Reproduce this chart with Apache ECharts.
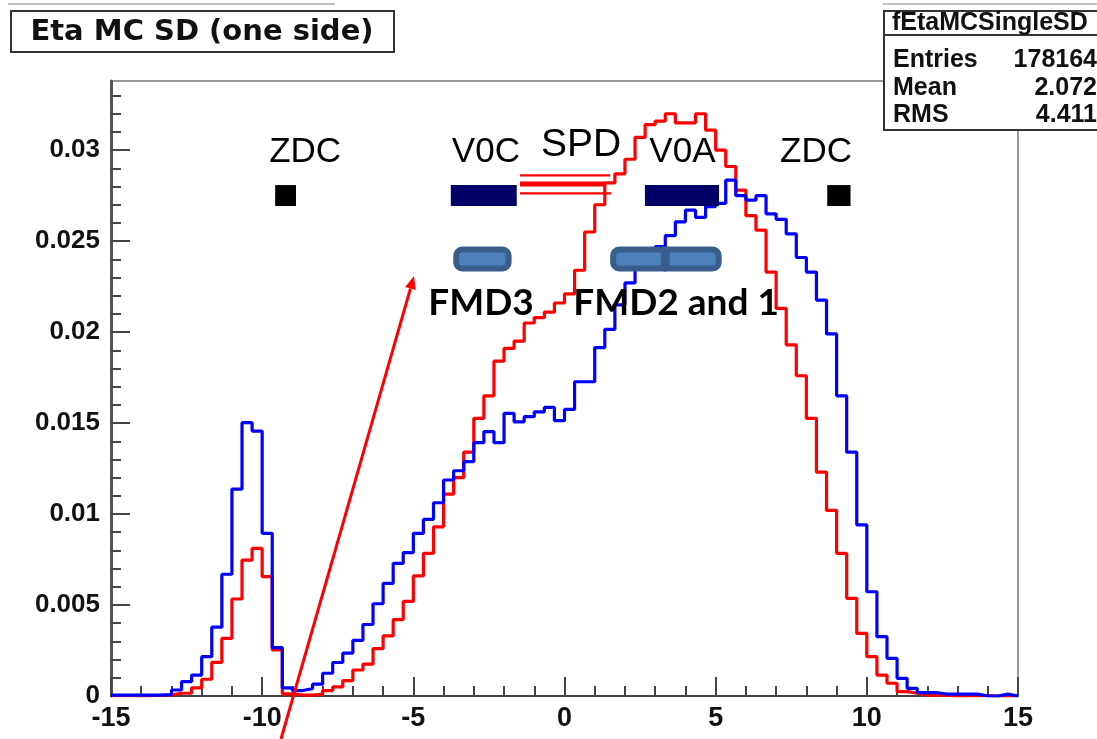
<!DOCTYPE html>
<html><head><meta charset="utf-8">
<script src="https://cdn.jsdelivr.net/npm/echarts@6/dist/echarts.min.js"></script>
<style>html,body{margin:0;padding:0;background:#fff}#c{width:1097px;height:739px}</style>
</head><body><div id="c"></div>
<script>
// ---- histogram definition (ROOT TH1: 90 bins from -15 to 15) ----
const histLow = -15, histHigh = 15, nBins = 90;
const redValues = [
0.00002,0.00002,0.00000,0.00002,0.00003,0.00005,0.00015,0.00015,0.00045,0.00092,
0.00185,0.00317,0.00533,0.00747,0.00811,0.00656,0.00253,0.00012,0.00005,0.00005,
0.00010,0.00030,0.00050,0.00085,0.00143,0.00175,0.00260,0.00330,0.00420,0.00520,
0.00660,0.00784,0.00930,0.01110,0.01200,0.01340,0.01526,0.01650,0.01840,0.01910,
0.01950,0.02050,0.02080,0.02110,0.02160,0.02210,0.02340,0.02550,0.02700,0.02820,
0.02870,0.02950,0.03070,0.03140,0.03160,0.03200,0.03150,0.03150,0.03200,0.03110,
0.03000,0.02910,0.02780,0.02640,0.02560,0.02330,0.02130,0.01930,0.01760,0.01526,
0.01230,0.01020,0.00784,0.00537,0.00344,0.00216,0.00115,0.00070,0.00024,0.00015,
0.00005,0.00005,0.00003,0.00000,0.00000,0.00003,0.00002,0.00000,0.00000,0.00000];
const blueValues = [
0.00005,0.00005,0.00005,0.00005,0.00005,0.00008,0.00033,0.00079,0.00115,0.00216,
0.00378,0.00669,0.01137,0.01502,0.01456,0.00894,0.00266,0.00045,0.00030,0.00040,
0.00065,0.00125,0.00184,0.00236,0.00306,0.00393,0.00507,0.00619,0.00729,0.00788,
0.00894,0.00971,0.01062,0.01187,0.01238,0.01288,0.01392,0.01453,0.01392,0.01553,
0.01507,0.01535,0.01562,0.01586,0.01513,0.01575,0.01727,0.01727,0.01915,0.02015,
0.02150,0.02270,0.02380,0.02450,0.02470,0.02530,0.02606,0.02670,0.02630,0.02690,
0.02707,0.02835,0.02750,0.02725,0.02750,0.02650,0.02620,0.02540,0.02410,0.02330,
0.02176,0.01990,0.01650,0.01340,0.00940,0.00573,0.00326,0.00207,0.00097,0.00042,
0.00018,0.00018,0.00010,0.00010,0.00010,0.00010,0.00000,0.00000,0.00010,0.00000];

// ---- axes ----
const xTickLabels = [-15, -10, -5, 0, 5, 10, 15];
const xMinorTicks = [-14,-13,-12,-11,-9,-8,-7,-6,-4,-3,-2,-1,1,2,3,4,6,7,8,9,11,12,13,14];
const yMin = 0, yMax = 0.0338;
const yTickLabels = [0, 0.005, 0.01, 0.015, 0.02, 0.025, 0.03];
const yMinorTicks = [0.001,0.002,0.003,0.004,0.006,0.007,0.008,0.009,0.011,0.012,0.013,0.014,
  0.016,0.017,0.018,0.019,0.021,0.022,0.023,0.024,0.026,0.027,0.028,0.029,0.031,0.032,0.033];

// ---- texts ----
const titleText = 'Eta MC SD (one side)';
const statsName = 'fEtaMCSingleSD';
const statsLabels = ['Entries', 'Mean', 'RMS'];
const statsValues = ['178164', '2.072', '4.411'];

// ---- detector acceptance overlays (eta ranges, y in axis units) ----
const detectorBars = [ // [etaLow, etaHigh, yLow, yHigh]
  [-9.57, -8.88, 0.02693, 0.02808],   // ZDC (C side)
  [-3.76, -1.58, 0.02693, 0.02808],   // V0C
  [2.66, 5.11, 0.02693, 0.02808],     // V0A
  [8.69, 9.46, 0.02693, 0.02808]      // ZDC (A side)
];
const fmdBoxes = [ // [etaLow, etaHigh, yLow, yHigh, corner]
  [-3.68, -1.75, 0.02333, 0.02470, 0],   // FMD3
  [1.51, 3.385, 0.02333, 0.02470, 1],    // FMD2
  [3.28, 5.20, 0.02333, 0.02470, 2]      // FMD1
];
const spdLines = [ // [etaLow, etaHigh, y, kind]
  [-1.47, 1.51, 0.02861, 0],
  [-1.47, 1.33, 0.02814, 1],
  [-1.47, 1.54, 0.02762, 0]
];
const detectorLabels = [ // [eta, y, text, kind]
  [-8.58, 0.02990, 'ZDC', 0],
  [-2.60, 0.02990, 'V0C', 0],
  [0.55, 0.03025, 'SPD', 1],
  [3.90, 0.02990, 'V0A', 0],
  [8.32, 0.02990, 'ZDC', 0],
  [-2.76, 0.02160, 'FMD3', 2],
  [3.69, 0.02160, 'FMD2 and 1', 2]
];
const arrowLine = [[-9.376, -0.002363, -4.977, 0.02308]];

const binWidth = (histHigh - histLow) / nBins;
function stepData(vals) {
  const pts = vals.map((v, i) => [histLow + i * binWidth, v]);
  pts.push([histHigh, vals[vals.length - 1]]);
  return pts;
}

const labelFont = {fontFamily: 'Liberation Sans', fontWeight: 'bold', color: '#111'};
const chart = echarts.init(document.getElementById('c'), null, {renderer: 'canvas'});

const option = {
  backgroundColor: '#fff',
  animation: false,
  grid: {left: 111, right: 79, top: 81, bottom: 43, show: true, borderColor: '#777', borderWidth: 1.5, backgroundColor: 'transparent'},
  xAxis: [
    {type: 'value', min: histLow, max: histHigh, interval: 5,
     axisLine: {show: true, onZero: false, lineStyle: {color: '#444', width: 2}},
     axisTick: {show: true, inside: true, length: 19, lineStyle: {color: '#444', width: 2}},
     axisLabel: Object.assign({margin: 9, fontSize: 27}, labelFont),
     splitLine: {show: false}},
    {type: 'value', min: histLow, max: histHigh, position: 'bottom', gridIndex: 0,
     axisLine: {show: false, onZero: false},
     axisTick: {show: true, inside: true, length: 10, customValues: xMinorTicks, lineStyle: {color: '#444', width: 2}},
     axisLabel: {show: false}, splitLine: {show: false}}
  ],
  yAxis: [
    {type: 'value', min: yMin, max: yMax,
     axisLine: {show: true, onZero: false, lineStyle: {color: '#555', width: 3}},
     axisTick: {show: true, inside: true, length: 19, customValues: yTickLabels, lineStyle: {color: '#444', width: 2}},
     axisLabel: Object.assign({margin: 11, fontSize: 26, customValues: yTickLabels}, labelFont),
     splitLine: {show: false}},
    {type: 'value', min: yMin, max: yMax, position: 'left',
     axisLine: {show: false, onZero: false},
     axisTick: {show: true, inside: true, length: 10, customValues: yMinorTicks, lineStyle: {color: '#444', width: 2}},
     axisLabel: {show: false}, splitLine: {show: false}}
  ],
  series: [
    {name: 'red', type: 'line', step: 'end', data: stepData(redValues), showSymbol: false, symbol: 'none',
     lineStyle: {color: '#ff0000', width: 3.2}, z: 3},
    {name: 'blue', type: 'line', step: 'end', data: stepData(blueValues), showSymbol: false, symbol: 'none',
     lineStyle: {color: '#0000ff', width: 3.2}, z: 4},
    {type: 'custom', name: 'bars', data: detectorBars, encode: {x: [0, 1], y: [2, 3]}, z: 10, clip: false,
     renderItem: function (params, api) {
       const a = api.coord([api.value(0), api.value(3)]);
       const b = api.coord([api.value(1), api.value(2)]);
       const isZdc = params.dataIndex === 0 || params.dataIndex === 3;
       return {type: 'rect', shape: {x: a[0], y: a[1], width: b[0] - a[0], height: b[1] - a[1]},
         style: {fill: isZdc ? '#000000' : '#000066'}};
     }},
    {type: 'custom', name: 'fmd', data: fmdBoxes, encode: {x: [0, 1], y: [2, 3]}, z: 11, clip: false,
     renderItem: function (params, api) {
       const a = api.coord([api.value(0), api.value(3)]);
       const b = api.coord([api.value(1), api.value(2)]);
       const bw = 6, rr = 6;
       const c = api.value(4);
       const r = c === 0 ? rr : (c === 1 ? [rr, 0, 0, rr] : [0, rr, rr, 0]);
       return {type: 'rect', shape: {x: a[0] + bw / 2, y: a[1] + bw / 2, width: b[0] - a[0] - bw, height: b[1] - a[1] - bw, r: r},
         style: {fill: '#4f81bd', stroke: '#3a5e8c', lineWidth: bw}};
     }},
    {type: 'custom', name: 'spd', data: spdLines, encode: {x: [0, 1], y: 2}, z: 12, clip: false,
     renderItem: function (params, api) {
       const a = api.coord([api.value(0), api.value(2)]);
       const b = api.coord([api.value(1), api.value(2)]);
       return {type: 'line', shape: {x1: a[0], y1: a[1], x2: b[0], y2: b[1]},
         style: {stroke: '#ff0000', lineWidth: api.value(3) ? 5 : 2.2}};
     }},
    {type: 'custom', name: 'labels', data: detectorLabels, encode: {x: 0, y: 1}, z: 13, clip: false,
     renderItem: function (params, api) {
       const p = api.coord([api.value(0), api.value(1)]);
       const kind = api.value(3);
       const font = kind === 2 ? 'bold 37px Lato' : (kind === 1 ? '39px "Liberation Sans"' : '35px "Liberation Sans"');
       return {type: 'text', x: p[0], y: p[1],
         style: {text: detectorLabels[params.dataIndex][2], font: font, fill: '#000', align: 'center', verticalAlign: 'middle'}};
     }},
    {type: 'custom', name: 'arrow', data: arrowLine, encode: {x: [0, 2], y: [1, 3]}, z: 14, clip: false,
     renderItem: function (params, api) {
       const a = api.coord([api.value(0), api.value(1)]);
       const b = api.coord([api.value(2), api.value(3)]);
       const dx = b[0] - a[0], dy = b[1] - a[1];
       const L = Math.sqrt(dx * dx + dy * dy), ux = dx / L, uy = dy / L;
       const hl = 13, hw = 5.5;
       const bx = b[0] - ux * hl, by = b[1] - uy * hl;
       return {type: 'group', children: [
         {type: 'line', shape: {x1: a[0], y1: a[1], x2: bx, y2: by}, style: {stroke: '#ff0000', lineWidth: 3}},
         {type: 'polygon', shape: {points: [[b[0], b[1]], [bx - uy * hw, by + ux * hw], [bx + uy * hw, by - ux * hw]]},
          style: {fill: '#ff0000'}}
       ]};
     }}
  ],
  graphic: [
    {type: 'line', shape: {x1: 8, y1: 4, x2: 335, y2: 4}, style: {stroke: '#aaa', lineWidth: 1.5}},
    {type: 'line', shape: {x1: 883, y1: 4, x2: 1097, y2: 4}, style: {stroke: '#aaa', lineWidth: 1.5}},
    {type: 'rect', shape: {x: 11, y: 11, width: 383, height: 41}, style: {fill: '#fff', stroke: '#333', lineWidth: 2}},
    {type: 'text', x: 202, y: 32, style: {text: titleText, font: 'bold 29px "DejaVu Sans"', fill: '#111', align: 'center', verticalAlign: 'middle'}},
    {type: 'rect', shape: {x: 884, y: 11, width: 220, height: 119}, style: {fill: '#fff', stroke: '#333', lineWidth: 2}},
    {type: 'line', shape: {x1: 884, y1: 35, x2: 1097, y2: 35}, style: {stroke: '#333', lineWidth: 2}},
    {type: 'text', x: 892, y: 23, style: {text: statsName, font: 'bold 25px "Liberation Sans"', fill: '#111', verticalAlign: 'middle'}},
    {type: 'text', x: 893, y: 60, style: {text: statsLabels[0], font: 'bold 25px "Liberation Sans"', fill: '#111', verticalAlign: 'middle'}},
    {type: 'text', x: 893, y: 88, style: {text: statsLabels[1], font: 'bold 25px "Liberation Sans"', fill: '#111', verticalAlign: 'middle'}},
    {type: 'text', x: 893, y: 115, style: {text: statsLabels[2], font: 'bold 25px "Liberation Sans"', fill: '#111', verticalAlign: 'middle'}},
    {type: 'text', x: 1097, y: 60, style: {text: statsValues[0], font: 'bold 25px "Liberation Sans"', fill: '#111', align: 'right', verticalAlign: 'middle'}},
    {type: 'text', x: 1097, y: 88, style: {text: statsValues[1], font: 'bold 25px "Liberation Sans"', fill: '#111', align: 'right', verticalAlign: 'middle'}},
    {type: 'text', x: 1097, y: 115, style: {text: statsValues[2], font: 'bold 25px "Liberation Sans"', fill: '#111', align: 'right', verticalAlign: 'middle'}}
  ]
};
chart.setOption(option);
</script>
</body></html>
